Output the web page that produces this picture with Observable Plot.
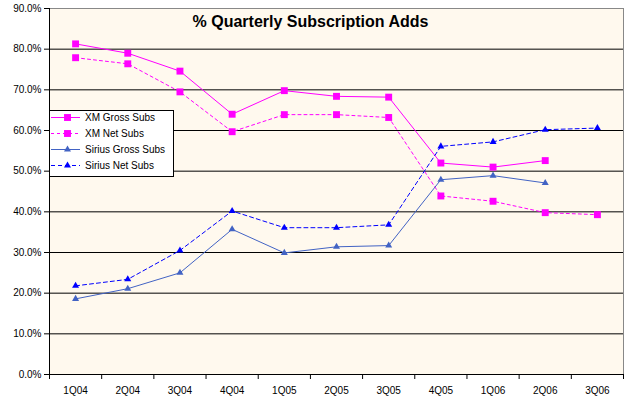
<!DOCTYPE html>
<html>
<head>
<meta charset="utf-8">
<script src="https://cdn.jsdelivr.net/npm/d3@7"></script>
<script src="https://cdn.jsdelivr.net/npm/@observablehq/plot@0.6"></script>
<style>
  html, body { margin: 0; padding: 0; background: #ffffff; }
  #wrap { position: relative; width: 625px; height: 398px; }
  #legend { position: absolute; left: 49px; top: 110px; }
</style>
</head>
<body>
<div id="wrap"></div>
<script>
const categories = ["1Q04","2Q04","3Q04","4Q04","1Q05","2Q05","3Q05","4Q05","1Q06","2Q06","3Q06"];
const xmGross     = [81.3, 79.0, 74.6, 64.0, 69.8, 68.4, 68.2, 52.0, 51.0, 52.6, null];
const xmNet       = [77.9, 76.4, 69.5, 59.7, 63.9, 63.9, 63.2, 43.9, 42.6, 39.8, 39.3];
const siriusGross = [18.6, 21.1, 25.0, 35.7, 29.9, 31.4, 31.7, 47.9, 48.9, 47.1, null];
const siriusNet   = [21.8, 23.4, 30.5, 40.2, 36.1, 36.1, 36.8, 56.1, 57.2, 60.2, 60.6];
const yTicks = [0, 10, 20, 30, 40, 50, 60, 70, 80, 90];
const gridValues = [10, 20, 30, 40, 50, 60, 70, 80];
const title = "% Quarterly Subscription Adds";

const series = [
  {name: "XM Gross Subs", values: xmGross, color: "#FF00FF", dash: null, symbol: "square", r: 3.9},
  {name: "XM Net Subs", values: xmNet, color: "#FF00FF", dash: "3,3", symbol: "square", r: 3.9},
  {name: "Sirius Gross Subs", values: siriusGross, color: "#4263C4", dash: null, symbol: "triangle", r: 2.6},
  {name: "Sirius Net Subs", values: siriusNet, color: "#0000FF", dash: "4,3", symbol: "triangle", r: 2.6}
];

const font = "Arial, 'Liberation Sans', sans-serif";

const marks = [
  Plot.frame({fill: "#FFF9EE", stroke: "#888888"}),
  Plot.ruleY(gridValues, {stroke: "#000000", strokeWidth: 1}),
  Plot.ruleY([0], {stroke: "#000000"}),
  Plot.ruleX([0], {stroke: "#000000"}),
  Plot.ruleX(d3.range(categories.length + 1), {y1: 0, y2: 0, insetBottom: -5, stroke: "#000000"}),
  Plot.text(categories, {x: (d, i) => i + 0.5, frameAnchor: "bottom", dy: 19, text: d => d, fontSize: 10, fill: "#000"}),
];

for (const s of series) {
  const data = categories.map((c, i) => ({i: i + 0.5, v: s.values[i]})).filter(d => d.v != null);
  marks.push(Plot.line(data, {x: "i", y: "v", stroke: s.color, strokeWidth: 1, strokeDasharray: s.dash}));
}
for (const s of series) {
  const data = categories.map((c, i) => ({i: i + 0.5, v: s.values[i]})).filter(d => d.v != null);
  marks.push(Plot.dot(data, {x: "i", y: "v", symbol: s.symbol, r: s.r, fill: s.color, stroke: "none"}));
}
marks.push(Plot.text([title], {frameAnchor: "top", dx: -26, dy: 7, fontSize: 16, fontWeight: "bold", fill: "#000"}));

const chart = Plot.plot({
  width: 625,
  height: 398,
  marginLeft: 49,
  marginRight: 2,
  marginTop: 8,
  marginBottom: 24,
  style: {fontFamily: font, fontSize: "10px", background: "#ffffff", color: "#000"},
  x: {domain: [0, categories.length], axis: null},
  y: {domain: [0, 90], ticks: yTicks, tickFormat: d => d.toFixed(1) + "%", tickSize: 5, tickPadding: 3, label: null},
  marks
});
document.getElementById("wrap").appendChild(chart);

// legend
const lg = d3.select("#wrap").append("svg").attr("id", "legend")
  .attr("width", 125).attr("height", 67)
  .style("font-family", font).style("font-size", "10px");
lg.append("rect").attr("x", 0.5).attr("y", 0.5).attr("width", 124).attr("height", 66)
  .attr("fill", "#ffffff").attr("stroke", "#000000");
series.forEach((s, k) => {
  const y = 7.5 + k * 16;
  lg.append("line").attr("x1", 2).attr("x2", 31).attr("y1", y).attr("y2", y)
    .attr("stroke", s.color).attr("stroke-dasharray", s.dash);
  const sym = s.symbol === "square" ? d3.symbolSquare : d3.symbolTriangle;
  lg.append("path").attr("transform", `translate(18.5,${y})`)
    .attr("d", d3.symbol(sym, s.r * s.r * Math.PI)()).attr("fill", s.color);
  lg.append("text").attr("x", 36).attr("y", y).attr("dy", "0.35em").text(s.name);
});
</script>
</body>
</html>
